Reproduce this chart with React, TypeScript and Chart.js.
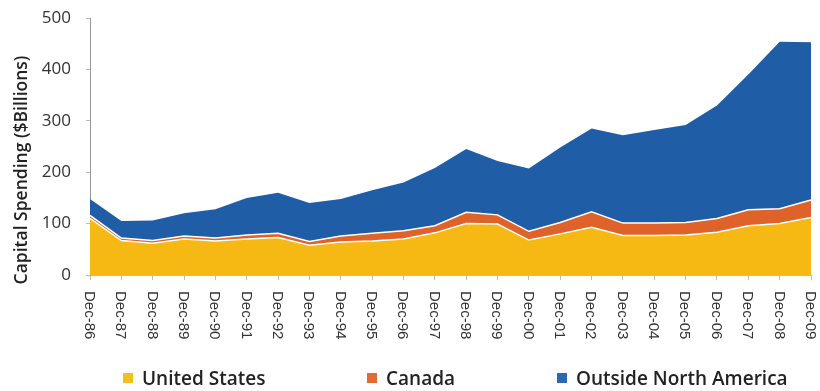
import React, { useEffect, useRef } from "react";
import { Chart, registerables } from "chart.js";

Chart.register(...registerables);

const labels = [
  "Dec-86", "Dec-87", "Dec-88", "Dec-89", "Dec-90", "Dec-91", "Dec-92", "Dec-93",
  "Dec-94", "Dec-95", "Dec-96", "Dec-97", "Dec-98", "Dec-99", "Dec-00", "Dec-01",
  "Dec-02", "Dec-03", "Dec-04", "Dec-05", "Dec-06", "Dec-07", "Dec-08", "Dec-09",
];
const unitedStates = [110, 67, 62, 70, 66, 70, 73, 58, 64, 66, 70, 82, 100, 99, 68, 80, 93, 77, 77, 78, 83, 96, 100, 112];
const canada = [6, 5, 5, 6, 6, 8, 8, 7, 12, 15, 16, 14, 22, 18, 17, 22, 30, 24, 24, 24, 27, 31, 29, 34];
const outsideNA = [32, 33, 39, 44, 56, 72, 79, 75, 72, 84, 94, 112, 123, 105, 122, 146, 162, 171, 181, 190, 220, 263, 325, 307];
const yTicks = [0, 100, 200, 300, 400, 500];
const yTitle = "Capital Spending ($Billions)";

const COLORS = {
  us: "#F6B812",
  canada: "#E0622B",
  outside: "#1F5EA6",
};

const customLabels = {
  id: "customLabels",
  afterDraw(chart: any) {
    const ctx = chart.ctx;
    const xs = chart.scales.x;
    ctx.save();
    ctx.fillStyle = "#333";
    ctx.font = '15px "Liberation Sans", Arial, sans-serif';
    ctx.textAlign = "left";
    ctx.textBaseline = "middle";
    labels.forEach((lab, i) => {
      const x = xs.getPixelForTick(i);
      ctx.save();
      ctx.translate(x - 1, xs.top + 16);
      ctx.rotate(Math.PI / 2);
      ctx.fillText(lab, 0, 0);
      ctx.restore();
    });
    ctx.save();
    ctx.translate(22, 170);
    ctx.rotate(-Math.PI / 2);
    ctx.textAlign = "center";
    ctx.font = '600 17.5px "Open Sans", sans-serif';
    ctx.fillStyle = "#222";
    ctx.fillText(yTitle, 0, 0);
    ctx.restore();
    ctx.restore();
  },
};

export default function App() {
  const ref = useRef<HTMLCanvasElement>(null);
  useEffect(() => {
    if (!ref.current) return;
    const chart = new Chart(ref.current, {
      type: "line",
      data: {
        labels,
        datasets: [
          {
            label: "United States",
            data: unitedStates,
            backgroundColor: COLORS.us,
            borderColor: "#ffffff",
            borderWidth: 1.5,
            fill: "origin",
            pointRadius: 0,
            tension: 0,
          },
          {
            label: "Canada",
            data: canada,
            backgroundColor: COLORS.canada,
            borderColor: "#ffffff",
            borderWidth: 1.5,
            fill: "-1",
            pointRadius: 0,
            tension: 0,
          },
          {
            label: "Outside North America",
            data: outsideNA,
            backgroundColor: COLORS.outside,
            borderColor: COLORS.outside,
            borderWidth: 0,
            fill: "-1",
            pointRadius: 0,
            tension: 0,
          },
        ],
      },
      options: {
        responsive: false,
        animation: false,
        layout: { padding: { left: 0, right: 9, top: 18, bottom: 0 } },
        plugins: { legend: { display: false }, tooltip: { enabled: false } },
        scales: {
          x: {
            offset: false,
            grid: { drawOnChartArea: false, drawTicks: true, tickLength: 5, color: "#bbb" },
            border: { color: "#bbb", width: 1 },
            ticks: { display: false },
            afterFit: (s: any) => {
              s.height = 116;
              s.paddingLeft = 0;
              s.paddingRight = 0;
            },
          },
          y: {
            stacked: true,
            min: 0,
            max: 500,
            afterBuildTicks: (s: any) => {
              s.ticks = yTicks.map((v) => ({ value: v }));
            },
            grid: { drawOnChartArea: false, drawTicks: true, tickLength: 4, color: "#bbb" },
            border: { color: "#999", width: 1, dash: [2, 2] },
            ticks: {
              color: "#333",
              padding: 15,
              font: { family: '"Open Sans", sans-serif', size: 17 },
            },
            afterFit: (s: any) => {
              s.width = 90;
              s.paddingTop = 0;
              s.paddingBottom = 0;
            },
          },
        },
      },
      plugins: [customLabels],
    });
    return () => chart.destroy();
  }, []);

  const item = (left: number, color: string, text: string) => (
    <div
      style={{
        position: "absolute",
        left,
        top: 365,
        display: "flex",
        alignItems: "center",
        fontFamily: '"Open Sans", sans-serif',
        fontWeight: 600,
        fontSize: 19,
        lineHeight: "26px",
        color: "#222",
        whiteSpace: "nowrap",
      }}
    >
      <span style={{ display: "inline-block", width: 10, height: 10, background: color, marginRight: 9 }} />
      <span>{text}</span>
    </div>
  );

  return (
    <div style={{ position: "absolute", left: 0, top: 0, width: 820, height: 391, background: "#fff" }}>
      <canvas ref={ref} width={820} height={391} />
      {item(123, "#F5C01A", "United States")}
      {item(367, "#E26A33", "Canada")}
      {item(557, "#2A6AB3", "Outside North America")}
    </div>
  );
}
